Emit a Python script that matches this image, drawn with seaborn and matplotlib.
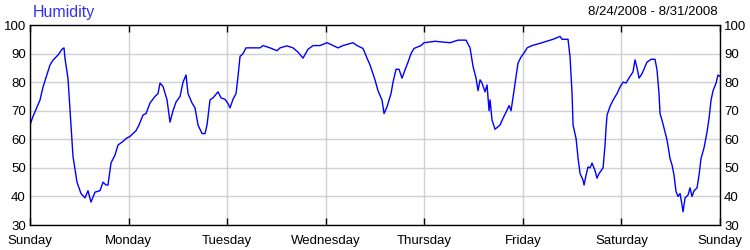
import matplotlib
matplotlib.use("Agg")
import matplotlib.pyplot as plt
import seaborn as sns
import pandas as pd

# hours since Sunday 8/24/2008 00:00
hours = [0, 0.73, 2.43, 3.17, 4.87, 5.6, 6.82, 7.79, 8.28, 8.52, 9.25, 9.98,
         10.47, 11.44, 12.42, 13.39, 14.12, 14.85, 15.83, 17.04, 17.78, 18.5, 18.99,
         19.72, 20.7, 21.43, 22.4, 23.62, 24.35, 25.81, 26.54, 27.52, 28.25, 29.22,
         30.44, 31.17, 31.66, 32.39, 33.36, 34.09, 34.82, 35.55, 36.53, 37.26, 37.99,
         38.47, 39.45, 40.18, 40.91, 41.88, 42.61, 43.1, 43.83, 44.56, 45.78, 46.51,
         47.48, 48.21, 48.7, 49.43, 50.16, 50.65, 51.14, 51.87, 52.6, 53.57,
         54.79, 56.0, 56.73, 58.43, 60.14, 60.88, 62.58, 64.04, 65.26, 66.47, 67.69,
         68.91, 70.6, 72.32, 73.78, 75.0, 76.21, 78.65, 79.62, 81.08, 82.06, 82.79,
         84.0, 84.73, 85.71, 86.2, 86.93, 87.9, 88.39, 89.12, 89.85, 90.58, 91.31,
         92.04, 92.77, 93.5, 95.21, 95.94, 98.62, 102.27, 104.22, 106.17, 107.14,
         107.87, 108.6, 109.09, 109.58, 110.06, 110.79, 111.28, 111.77, 112.01, 112.5,
         113.23, 114.45, 115.18, 116.15, 116.64, 117.12, 117.85, 118.34, 118.83, 119.56,
         120.53, 121.02, 122.24, 124.67, 127.35, 129.05, 129.54, 131.0, 131.49, 131.98,
         132.22, 132.95, 133.44, 133.93, 134.65, 134.9, 135.39, 135.87, 136.36, 136.85,
         137.58, 138.06, 138.55, 139.04, 139.53, 140.01, 140.26, 140.5, 141.23, 141.96,
         142.93, 143.66, 144.39, 145.12, 146.09, 146.82, 147.31, 147.8, 148.29, 149.02,
         149.75, 150.23, 151.21, 152.18, 152.66, 153.15, 153.4, 153.88, 154.61, 155.1,
         155.83, 156.32, 156.8, 157.29, 157.78, 158.27, 158.76, 159.0, 159.49, 160.22,
         160.7, 161.19, 161.68, 162.41, 162.9, 163.38, 164.11, 164.84, 165.33, 165.82,
         166.31, 167.04, 167.52, 168.0]
humidity = [65, 68, 73.7, 78.3, 86, 87.7, 89.5, 91.5, 92, 88.3, 81.3, 65,
            54, 45, 41, 39.5, 42, 38, 41.5, 42, 45, 44, 44,
            51.7, 54.5, 58, 59, 60.5, 61, 63, 65, 68.5, 69, 72.7,
            75, 76, 79.7, 78.5, 73.8, 66, 70, 73, 75, 80, 82.5,
            76, 72.7, 71, 65, 62, 62, 65, 73.8, 74.5, 76.6, 74.5,
            74, 72.5, 71, 74, 76, 82, 89, 90, 92, 92,
            92, 92, 92.8, 92, 91, 92, 92.7, 92, 90.5, 88.4, 91.5,
            92.8, 92.8, 93.8, 92.8, 92, 92.8, 93.8, 92.8, 91.8, 88.4, 86,
            80.8, 77, 73.7, 69, 71.4, 76, 80, 84.5, 84.5, 81.4, 84.3,
            87, 90, 91.8, 92.8, 93.8, 94.3, 93.8, 94.7, 94.7, 92,
            85.5, 81.4, 77, 80.8, 79.7, 76.6, 79, 70, 73.8, 66.7,
            63.5, 65, 67.4, 70.2, 71.8, 70, 77, 82, 86.7, 88.8,
            90.7, 92, 92.8, 93.8, 95, 96, 95, 95, 88.8, 76,
            65, 60.3, 53.4, 48, 45.7, 44, 47.5, 50.3, 50, 51.7,
            49, 46.4, 48, 49, 50, 58, 64, 68.5, 71.5, 73.7,
            76, 78.3, 80, 79.7, 82, 83.6, 87.8, 85, 81.4, 83,
            85.4, 87, 88, 88, 84.3, 76, 69, 66.7, 62.5, 59.8,
            53.3, 51, 47.5, 41.7, 40, 41, 37, 34.6, 39.5, 40.5,
            43, 40, 42, 43, 47.5, 53.3, 57, 62.5, 67.3, 73.7,
            77, 79.7, 82.5, 82]

day_labels = ["Sunday", "Monday", "Tuesday", "Wednesday", "Thursday",
              "Friday", "Saturday", "Sunday"]
day_ticks = [0, 24, 48, 72, 96, 120, 144, 168]
y_ticks = [30, 40, 50, 60, 70, 80, 90, 100]

title = "Humidity"
date_range = "8/24/2008 - 8/31/2008"

sns.set_style("white")
plt.rcParams['font.family'] = ['Liberation Sans', 'DejaVu Sans']

df = pd.DataFrame({"hours": hours, "humidity": humidity})

fig = plt.figure(figsize=(7.5, 2.5), dpi=100)
ax = fig.add_axes([0.04, 0.1, 0.92, 0.8])

sns.lineplot(data=df, x="hours", y="humidity", ax=ax, color="#0000ff",
             linewidth=1.0, estimator=None, sort=False)

ax.set_xlim(0, 168)
ax.set_ylim(30, 100)
ax.set_xticks(day_ticks)
ax.set_xticklabels(day_labels)
ax.set_yticks(y_ticks)
ax.set_yticklabels([str(v) for v in y_ticks])
ax.set_xlabel("")
ax.set_ylabel("")

ax.grid(True, color="#d0d0d0", linewidth=1.0)
ax.set_axisbelow(True)
for s in ax.spines.values():
    s.set_color("black")
    s.set_linewidth(1.0)
    s.set_visible(True)

ax.tick_params(axis="x", direction="in", length=5, width=1, top=True,
               bottom=True, labelsize=9.5, pad=7, colors="black")
ax.tick_params(axis="y", length=0, left=False, right=False, labelleft=True,
               labelright=True, labelsize=9.5, pad=3, colors="black")

fig.text(0.044, 0.952, title, color="#3030f0", fontsize=11.5,
         ha="left", va="center")
fig.text(0.957, 0.952, date_range, color="black", fontsize=9.5,
         ha="right", va="center")

fig.savefig("out.png", dpi=100)
